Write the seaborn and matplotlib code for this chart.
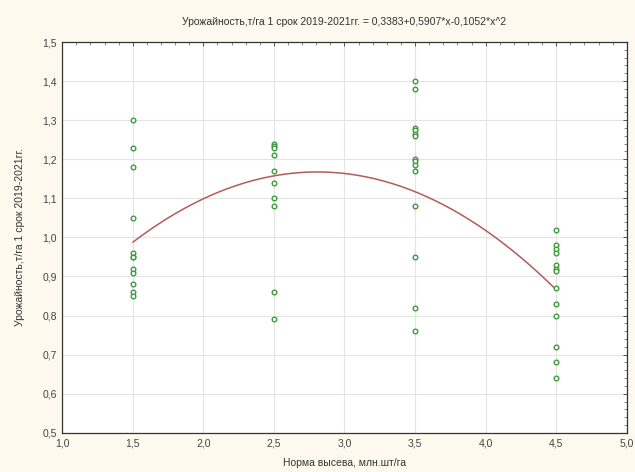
import matplotlib
matplotlib.use("Agg")
import matplotlib.pyplot as plt
import numpy as np
import pandas as pd
import seaborn as sns
from matplotlib.ticker import MultipleLocator, AutoMinorLocator, FuncFormatter

# Урожайность по нормам высева
norma_15 = [1.30, 1.23, 1.18, 1.05, 0.96, 0.95, 0.95, 0.92, 0.91, 0.88, 0.86, 0.85]
norma_25 = [1.24, 1.235, 1.23, 1.21, 1.17, 1.14, 1.10, 1.08, 0.86, 0.79]
norma_35 = [1.40, 1.38, 1.28, 1.275, 1.265, 1.26, 1.20, 1.195, 1.185, 1.17,
            1.08, 0.95, 0.82, 0.76]
norma_45 = [1.02, 0.98, 0.97, 0.96, 0.93, 0.92, 0.915, 0.87, 0.83, 0.80,
            0.72, 0.68, 0.64]
normy = [1.5, 2.5, 3.5, 4.5]

# коэффициенты квадратичной модели из заголовка
coef = [0.3383, 0.5907, -0.1052]

title = "Урожайность,т/га 1 срок 2019-2021гг. = 0,3383+0,5907*x-0,1052*x^2"
ylab = "Урожайность,т/га 1 срок 2019-2021гг."
xlab = "Норма высева, млн.шт/га"

groups = [norma_15, norma_25, norma_35, norma_45]
df = pd.DataFrame({
    "x": np.concatenate([[n] * len(g) for n, g in zip(normy, groups)]),
    "y": np.concatenate(groups),
})

xs = np.linspace(min(normy), max(normy), 200)
fit = pd.DataFrame({"x": xs, "y": coef[0] + coef[1] * xs + coef[2] * xs ** 2})

sns.set_style("white")
plt.rcParams["font.family"] = ["Liberation Sans", "DejaVu Sans"]

bg = "#fdf9ee"
fig = plt.figure(figsize=(6.35, 4.72), dpi=100, facecolor=bg)
ax = fig.add_axes([0.098, 0.083, 0.889, 0.828])
ax.set_facecolor("white")

sns.lineplot(data=fit, x="x", y="y", ax=ax, color="#b35c5c", linewidth=1.1, zorder=2)
sns.scatterplot(data=df, x="x", y="y", ax=ax, marker="o", s=11,
                facecolor="white", edgecolor="#3d9b3d", linewidth=1.0, zorder=3)

ax.set_xlim(1.0, 5.0)
ax.set_ylim(0.5, 1.5)
ax.xaxis.set_major_locator(MultipleLocator(0.5))
ax.yaxis.set_major_locator(MultipleLocator(0.1))
ax.xaxis.set_minor_locator(AutoMinorLocator(5))
ax.yaxis.set_minor_locator(AutoMinorLocator(5))
fmt = FuncFormatter(lambda v, p: f"{v:.1f}".replace(".", ","))
ax.xaxis.set_major_formatter(fmt)
ax.yaxis.set_major_formatter(fmt)

ax.grid(True, which="major", color="#e4e4e4", linewidth=0.8, zorder=0)
ax.set_axisbelow(True)
ax.tick_params(which="both", direction="in", top=True, right=True,
               labelsize=7.5, labelcolor="#444444", color="#555555")
ax.tick_params(which="major", length=3, width=0.7, pad=4)
ax.tick_params(which="minor", length=2, width=0.5)
for s in ax.spines.values():
    s.set_color("#333333")
    s.set_linewidth(0.9)

ax.set_title(title, fontsize=7.5, color="#333333", pad=12)
ax.set_xlabel(xlab, fontsize=7.5, color="#333333", labelpad=7)
ax.set_ylabel(ylab, fontsize=7.5, color="#333333", labelpad=12)

fig.savefig("out.png", dpi=100, facecolor=bg)
